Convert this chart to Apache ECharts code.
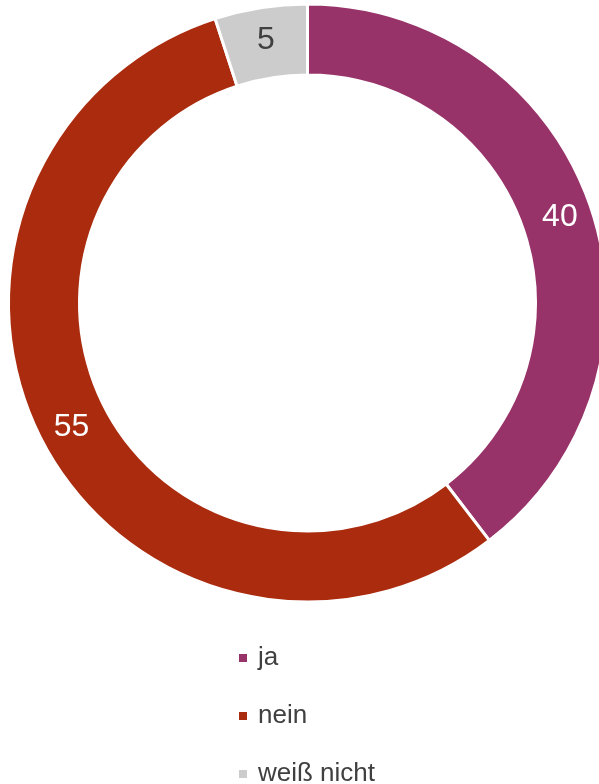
<!DOCTYPE html>
<html>
<head>
<meta charset="utf-8">
<script src="https://cdn.jsdelivr.net/npm/echarts@6/dist/echarts.min.js"></script>
<style>
  html, body { margin: 0; padding: 0; background: #fff; }
  #main { width: 599px; height: 784px; }
</style>
</head>
<body>
<div id="main"></div>
<script>
// Daten (Anteile in %, Beschriftung gerundet)
var categories = ['ja', 'nein', 'weiß nicht'];
var values = [39.6, 55.4, 5.0];
var colors = ['#983369', '#aa2b0e', '#cccccc'];
var labelColors = ['#ffffff', '#ffffff', '#404040'];

var data = [];
for (var i = 0; i < categories.length; i++) {
    data.push({
        name: categories[i],
        value: values[i],
        itemStyle: { color: colors[i] },
        label: { color: labelColors[i] }
    });
}

var myChart = echarts.init(document.getElementById('main'));

var option = {
    animation: false,
    legend: {
        orient: 'vertical',
        left: 237,
        top: 645,
        height: 200,
        padding: 0,
        itemWidth: 10,
        itemHeight: 10,
        itemGap: 32,
        icon: 'rect',
        textStyle: {
            fontFamily: 'Liberation Sans',
            fontSize: 26,
            lineHeight: 26,
            color: '#404040',
            padding: [0, 0, 0, 5]
        },
        data: categories
    },
    series: [
        {
            type: 'pie',
            center: [307.5, 303],
            radius: [228, 299],
            startAngle: 90,
            clockwise: true,
            itemStyle: {
                borderColor: '#ffffff',
                borderWidth: 3
            },
            label: {
                show: true,
                position: 'inside',
                formatter: function (p) {
                    return Math.round(p.value);
                },
                fontFamily: 'Liberation Sans',
                fontSize: 32,
                padding: [6, 0, 0, 0]
            },
            labelLine: { show: false },
            emphasis: { disabled: true },
            data: data
        }
    ]
};

myChart.setOption(option);
</script>
</body>
</html>
